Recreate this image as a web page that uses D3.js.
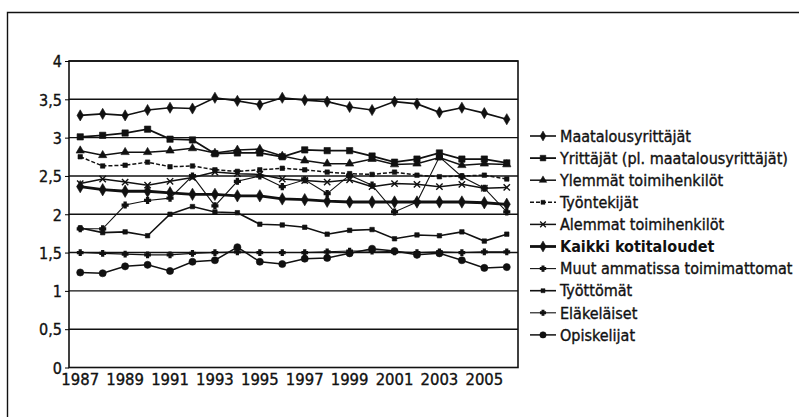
<!DOCTYPE html>
<meta charset="utf-8">
<html>
<head>
<script src="https://cdn.jsdelivr.net/npm/d3@7"></script>
<style>
  body { margin: 0; background: #fff; }
  text { font-family: "DejaVu Sans Condensed", "Liberation Sans Narrow", sans-serif; fill: #111; stroke: #111; stroke-width: 0.35px; }
</style>
</head>
<body>
<div id="chart"></div>
<script>
// years on the x axis
var years = d3.range(1987, 2007);

// series values
var maatalous  = [3.29,3.31,3.29,3.36,3.39,3.38,3.52,3.48,3.43,3.52,3.49,3.47,3.40,3.36,3.47,3.44,3.33,3.39,3.32,3.24];
var yrittajat  = [3.01,3.03,3.06,3.11,2.98,2.97,2.79,2.80,2.80,2.75,2.84,2.83,2.83,2.76,2.68,2.72,2.80,2.72,2.72,2.67];
var ylemmat    = [2.83,2.77,2.81,2.81,2.83,2.86,2.80,2.84,2.85,2.76,2.70,2.66,2.66,2.72,2.65,2.66,2.74,2.64,2.66,2.65];
var tyontek    = [2.75,2.63,2.64,2.68,2.62,2.63,2.58,2.56,2.58,2.60,2.58,2.55,2.53,2.52,2.55,2.51,2.49,2.50,2.51,2.46];
var alemmat    = [2.40,2.46,2.42,2.38,2.43,2.48,2.55,2.53,2.52,2.46,2.44,2.42,2.45,2.36,2.40,2.39,2.36,2.39,2.34,2.35];
var kaikki     = [2.36,2.32,2.30,2.30,2.28,2.26,2.26,2.24,2.24,2.20,2.19,2.17,2.16,2.16,2.16,2.16,2.16,2.16,2.15,2.13];
var muut       = [1.81,1.81,2.12,2.18,2.21,2.50,2.11,2.43,2.50,2.36,2.45,2.27,2.51,2.38,2.03,2.16,2.75,2.49,2.34,2.03];
var tyottomat  = [1.82,1.76,1.77,1.72,2.00,2.10,2.03,2.02,1.87,1.86,1.83,1.74,1.79,1.80,1.68,1.73,1.72,1.77,1.65,1.74];
var elakelaiset= [1.50,1.49,1.48,1.47,1.47,1.49,1.50,1.51,1.50,1.50,1.50,1.51,1.52,1.52,1.51,1.50,1.51,1.50,1.51,1.51];
var opiskelijat= [1.24,1.23,1.32,1.34,1.26,1.38,1.40,1.57,1.38,1.35,1.42,1.43,1.49,1.55,1.52,1.47,1.49,1.40,1.30,1.31];

var names = ["Maatalousyrittäjät", "Yrittäjät (pl. maatalousyrittäjät)", "Ylemmät toimihenkilöt",
  "Työntekijät", "Alemmat toimihenkilöt", "Kaikki kotitaloudet", "Muut ammatissa toimimattomat",
  "Työttömät", "Eläkeläiset", "Opiskelijat"];
var values = [maatalous, yrittajat, ylemmat, tyontek, alemmat, kaikki, muut, tyottomat, elakelaiset, opiskelijat];
var yTicks = [0, 0.5, 1, 1.5, 2, 2.5, 3, 3.5, 4];

// how each series is drawn
var styles = [
  {w: 1.6, mark: "diamond", size: 36},
  {w: 1.8, mark: "square", size: 40},
  {w: 1.5, mark: "triangle", size: 30},
  {w: 1.5, mark: "square", size: 20, dash: "4,2"},
  {w: 1.5, mark: "cross", size: 28},
  {w: 2.8, mark: "diamond", size: 44},
  {w: 1.1, mark: "plus", size: 18},
  {w: 1.6, mark: "square", size: 20},
  {w: 1.1, mark: "plus", size: 16},
  {w: 1.5, mark: "circle", size: 40}
];
var symbolTypes = {
  diamond: d3.symbolDiamond, square: d3.symbolSquare, triangle: d3.symbolTriangle,
  cross: d3.symbolTimes, plus: d3.symbolCross, circle: d3.symbolCircle
};

var W = 799, H = 417;
var plot = {left: 69, right: 518, top: 61, bottom: 367.5};

var svg = d3.select("#chart").append("svg")
  .attr("width", W).attr("height", H);

// outer frame (runs off to the right and bottom)
svg.append("path")
  .attr("d", "M7.5," + H + "V12.5H" + W)
  .attr("fill", "none").attr("stroke", "#111").attr("stroke-width", 1.4);

var x = d3.scaleBand().domain(years).range([plot.left, plot.right]).padding(0);
var y = d3.scaleLinear().domain([0, 4]).range([plot.bottom, plot.top]);

// gridlines
svg.append("g").selectAll("line").data(yTicks.slice(1)).enter().append("line")
  .attr("x1", plot.left).attr("x2", plot.right)
  .attr("y1", function(d) { return y(d); }).attr("y2", function(d) { return y(d); })
  .attr("stroke", "#111").attr("stroke-width", 1.4);

// plot border
svg.append("rect")
  .attr("x", plot.left).attr("y", plot.top)
  .attr("width", plot.right - plot.left).attr("height", plot.bottom - plot.top)
  .attr("fill", "none").attr("stroke", "#111").attr("stroke-width", 1.6);

var fmt = function(d) { return String(d).replace(".", ","); };

var yAxis = svg.append("g")
  .attr("transform", "translate(" + plot.left + ",0)")
  .call(d3.axisLeft(y).tickValues(yTicks).tickFormat(fmt).tickSize(4).tickPadding(3));
yAxis.select(".domain").remove();
yAxis.selectAll("text").style("font-size", "16px").attr("dy", "0.36em");

var xAxis = svg.append("g")
  .attr("transform", "translate(0," + plot.bottom + ")")
  .call(d3.axisBottom(x).tickValues(years.filter(function(d) { return d % 2 === 1; })).tickSize(0).tickPadding(6));
xAxis.select(".domain").remove();
xAxis.selectAll("text").style("font-size", "16.5px");

var cx = function(i) { return x(years[i]) + x.bandwidth() / 2; };
var line = d3.line().x(function(d, i) { return cx(i); }).y(function(d) { return y(d); });

values.forEach(function(vals, k) {
  var s = styles[k];
  var g = svg.append("g");
  g.append("path").datum(vals)
    .attr("d", line)
    .attr("fill", "none").attr("stroke", "#111")
    .attr("stroke-width", s.w)
    .attr("stroke-dasharray", s.dash || null);
  g.selectAll("path.m").data(vals).enter().append("path")
    .attr("class", "m")
    .attr("transform", function(d, i) { return "translate(" + cx(i) + "," + y(d) + ")"; })
    .attr("d", d3.symbol().type(symbolTypes[s.mark]).size(s.size))
    .attr("fill", "#111").attr("stroke", "#111")
    .attr("stroke-width", s.mark === "cross" || s.mark === "plus" ? 1.4 : 0.6);
});

// legend
var legend = svg.append("g").attr("transform", "translate(530,136)");
names.forEach(function(n, k) {
  var s = styles[k];
  var row = legend.append("g").attr("transform", "translate(0," + (k * 22.1) + ")");
  row.append("line").attr("x1", 0).attr("x2", 26)
    .attr("stroke", "#111").attr("stroke-width", s.w)
    .attr("stroke-dasharray", s.dash || null);
  row.append("path").attr("transform", "translate(13,0)")
    .attr("d", d3.symbol().type(symbolTypes[s.mark]).size(s.size * 0.8))
    .attr("fill", "#111").attr("stroke", "#111")
    .attr("stroke-width", s.mark === "cross" || s.mark === "plus" ? 1.3 : 0.5);
  row.append("text").attr("x", 30).attr("dy", "0.36em")
    .style("font-size", "16px")
    .style("font-weight", k === 5 ? "bold" : "normal")
    .style("stroke-width", k === 5 ? "0" : null)
    .text(n);
});
</script>
</body>
</html>
